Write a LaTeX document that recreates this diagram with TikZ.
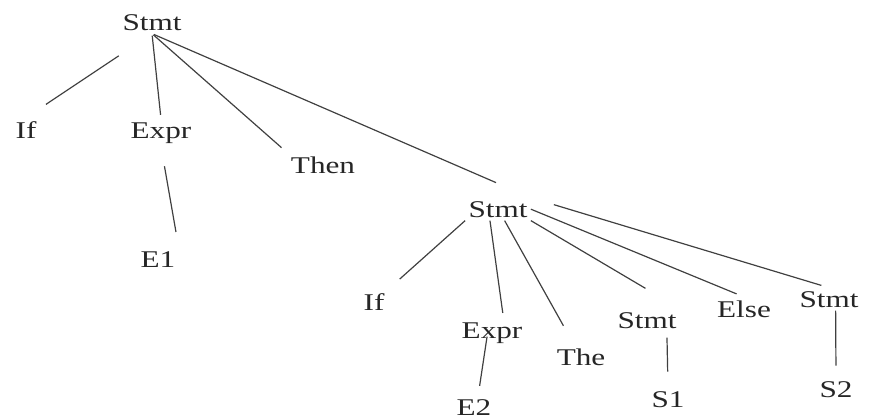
\documentclass[tikz,border=0pt]{standalone}
\usepackage{fontspec}
\setmainfont[FakeStretch=1.3]{Liberation Serif}
\usepackage{tikz}
\usetikzlibrary{arrows.meta}

\begin{document}
\begin{tikzpicture}[x=0.5pt, y=-0.5pt,
  word/.style={font=\fontsize{12}{14}\selectfont, text=black!85, inner sep=1.5pt, anchor=base},
  branch/.style={draw=black!75, line width=0.6pt}]
\useasboundingbox (0,0) rectangle (870,418);

% outer statement
\node[word] (r) at (152,30) {Stmt};
\node[word] (if1) at (26,138) {If};
\node[word] (ex1) at (161,138) {Expr};
\node[word] (then) at (323,173) {Then};
\node[word] (e1) at (158,267) {E1};

% inner statement
\node[word] (s2) at (498,217) {Stmt};
\node[word] (if2) at (374,310) {If};
\node[word] (ex2) at (492,338) {Expr};
\node[word] (the) at (581,365) {The};
\node[word] (s3) at (647,328) {Stmt};
\node[word] (else) at (744,317) {Else};
\node[word] (s4) at (829,307) {Stmt};
\node[word] (e2) at (474,415) {E2};
\node[word] (s1) at (668,407) {S1};
\node[word] (s2b) at (836,397) {S2};

% branches of the outer statement
\draw[branch, shorten <=20pt, shorten >=12pt] (r.south) -- (if1.north);
\draw[branch, shorten <=1pt, shorten >=2pt] (r.south) -- (ex1.north);
\draw[branch, shorten <=1pt, shorten >=4pt] (r.south) -- (then.north west);
\draw[branch, shorten <=1pt, shorten >=19pt] (r.south) -- (s2.north east);
\draw[branch, shorten <=10pt, shorten >=8pt] (ex1.south) -- (e1.north east);

% branches of the inner statement
\draw[branch, shorten <=0pt, shorten >=8pt] (s2.south west) -- (if2.north east);
\draw[branch, shorten <=0pt, shorten >=3pt] (s2.-125) -- (ex2.50);
\draw[branch, shorten <=0pt, shorten >=11pt] (s2.-60) -- (the.120);
\draw[branch, shorten <=0pt, shorten >=20pt] (s2.south east) -- (s3.north east);
\draw[branch, shorten <=0pt, shorten >=4pt] (s2.east) -- (else.north);
\draw[branch, shorten <=12pt, shorten >=4pt] (s2.north east) -- (s4.north);
\draw[branch, shorten <=-5pt, shorten >=5pt] (ex2.-115) -- (e2.70);
\draw[branch, shorten <=3pt, shorten >=8pt] (s3.-30) -- (s1.north);
\draw[branch, shorten <=0pt, shorten >=6pt] (s4.-60) -- (s2b.north);
\end{tikzpicture}
\end{document}
